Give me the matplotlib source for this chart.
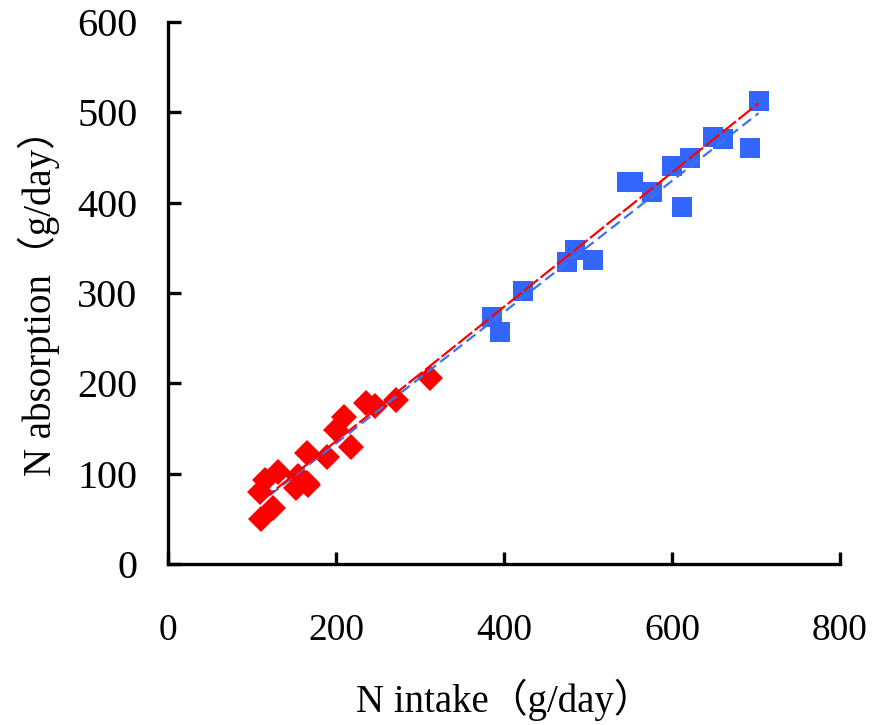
import matplotlib
matplotlib.use('Agg')
import matplotlib.pyplot as plt

# Red group (diamonds)
red_x = [111, 109, 115, 125, 131, 152, 155, 165, 167, 166, 189, 200, 210, 218, 236, 246, 272, 312]
red_y = [50, 80, 93, 62, 102, 84, 97, 90, 87, 123, 118, 148, 163, 130, 178, 175, 182, 206]

# Blue group (squares)
blue_x = [386, 395, 423, 475, 485, 506, 546, 554, 576, 600, 612, 621, 649, 661, 693, 703]
blue_y = [273, 257, 302, 334, 348, 337, 423, 423, 412, 441, 395, 449, 473, 470, 461, 513]

# Fitted lines (end points)
red_fit_x = [110, 703]
red_fit_y = [69, 510]
blue_fit_x = [121, 703]
blue_fit_y = [76, 499]

x_ticks = [0, 200, 400, 600, 800]
y_ticks = [0, 100, 200, 300, 400, 500, 600]

plt.rcParams['font.family'] = ['Liberation Serif', 'Noto Sans CJK SC']

fig = plt.figure(figsize=(8.73, 7.25), dpi=100)
ax = fig.add_axes([0.1924, 0.2221, 0.7698, 0.7476])

ax.plot(red_x, red_y, linestyle='none', marker='D', markersize=13.5,
        color='#FF0000', markeredgewidth=0, zorder=2)
ax.plot(blue_x, blue_y, linestyle='none', marker='s', markersize=15,
        color='#3366FF', markeredgewidth=0, zorder=2)

ax.plot(blue_fit_x, blue_fit_y, color='#3F72F0', linewidth=1.6,
        dashes=(5, 2.5), zorder=3)
ax.plot(red_fit_x, red_fit_y, color='#FF0000', linewidth=1.6,
        dashes=(8, 1.5), zorder=4)

ax.set_xlim(0, 800)
ax.set_ylim(0, 600)
ax.set_xticks(x_ticks)
ax.set_yticks(y_ticks)

for side in ['top', 'right']:
    ax.spines[side].set_visible(False)
for side in ['left', 'bottom']:
    ax.spines[side].set_linewidth(2.4)

ax.tick_params(axis='both', direction='in', length=9, width=2.4)
ax.tick_params(axis='x', labelsize=27, pad=36)
ax.tick_params(axis='y', labelsize=29, pad=22)

ax.set_xlabel('N intake（g/day）', fontsize=28, labelpad=22)
ax.set_ylabel('N absorption（g/day）', fontsize=28, labelpad=12)

fig.savefig('out.png', dpi=100)
